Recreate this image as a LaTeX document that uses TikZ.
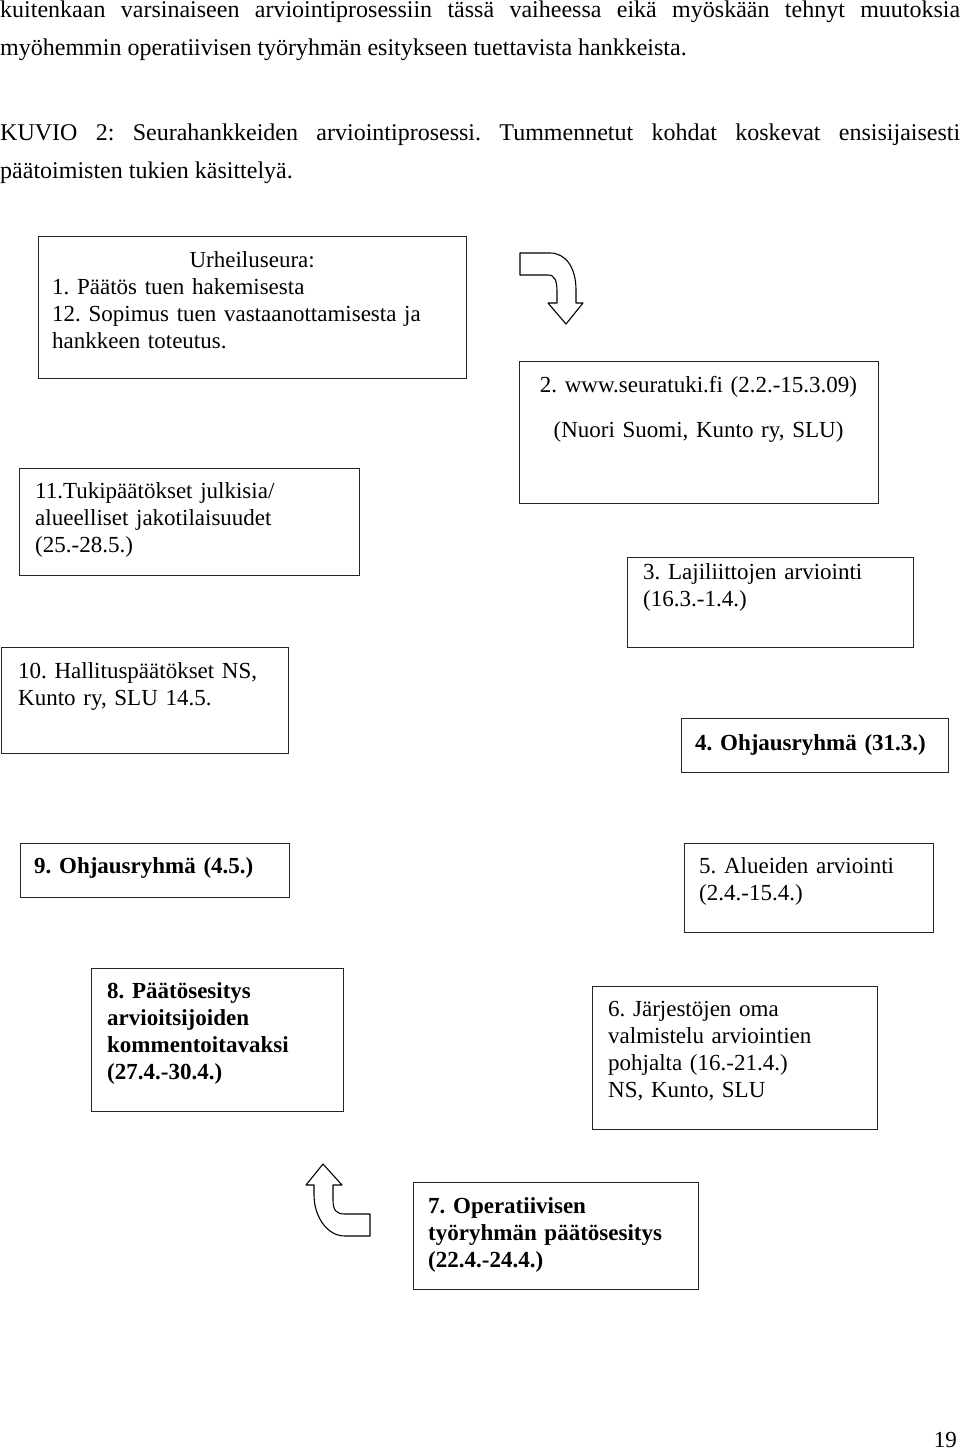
\documentclass[tikz,border=0pt]{standalone}
\usepackage{fontspec}
\setmainfont{Liberation Serif}
\usepackage{tikz}
\usetikzlibrary{positioning}
\frenchspacing
\newcommand{\boxfont}{\fontsize{23}{27.3}\selectfont}
\newcommand{\bodyfont}{\fontsize{24}{38}\selectfont}
\tikzstyle{stage} = [rectangle, draw=black!85, line width=1.4pt, anchor=north west, inner sep=0pt]
\tikzstyle{stagetext} = [anchor=base west, inner sep=0pt, align=left, font=\boxfont]
\tikzstyle{bodytext} = [anchor=base west, inner sep=0pt, text width=960pt, align=justify, font=\bodyfont]
\tikzstyle{bigarrow} = [draw=black, line width=1.1pt, fill=white, line join=round]

\begin{document}
\begin{tikzpicture}[x=1pt, y=-1pt]
			\useasboundingbox (0,0) rectangle (960,1450);
			
			%page text
			\node (intro) [bodytext] at (0,18) {kuitenkaan varsinaiseen arviointiprosessiin tässä vaiheessa eikä myöskään tehnyt muutoksia\linebreak myöhemmin operatiivisen työryhmän esitykseen tuettavista hankkeista.};
			\node (caption) [bodytext] at (0,141) {KUVIO 2: Seurahankkeiden arviointiprosessi. Tummennetut kohdat koskevat ensisijaisesti\linebreak päätoimisten tukien käsittelyä.};
			\node (pagenum) [anchor=base east, inner sep=0pt, font=\boxfont] at (957,1447) {19};
			
			%boxes
			\node (b1) [stage, minimum width=428pt, minimum height=142pt] at (38,236) {};
			\node (b2) [stage, minimum width=359pt, minimum height=142pt] at (519,361) {};
			\node (b3) [stage, minimum width=286pt, minimum height=90pt] at (627,557) {};
			\node (b4) [stage, minimum width=267pt, minimum height=54pt] at (681,718) {};
			\node (b5) [stage, minimum width=249pt, minimum height=89pt] at (684,843) {};
			\node (b6) [stage, minimum width=285pt, minimum height=143pt] at (592,986) {};
			\node (b7) [stage, minimum width=285pt, minimum height=107pt] at (413,1182) {};
			\node (b8) [stage, minimum width=252pt, minimum height=143pt] at (91,968) {};
			\node (b9) [stage, minimum width=269pt, minimum height=54pt] at (20,843) {};
			\node (b10) [stage, minimum width=287pt, minimum height=106pt] at (1,647) {};
			\node (b11) [stage, minimum width=340pt, minimum height=107pt] at (19,468) {};
			
			%box texts
			\node (t1) [stagetext, text width=400pt] at (52,267) {{\centering Urheiluseura:\par}1. Päätös tuen hakemisesta\\12. Sopimus tuen vastaanottamisesta ja\\hankkeen toteutus.};
			\node (t2) [stagetext, anchor=base, text width=350pt, align=center] at (698.5,392) {2. www.seuratuki.fi (2.2.-15.3.09)\\[17.7pt](Nuori Suomi, Kunto ry, SLU)};
			\node (t3) [stagetext, text width=260pt] at (643,579) {3. Lajiliittojen arviointi\\(16.3.-1.4.)};
			\node (t4) [stagetext, text width=250pt] at (695,750) {\bfseries 4. Ohjausryhmä (31.3.)};
			\node (t5) [stagetext, text width=230pt] at (699,873) {5. Alueiden arviointi\\(2.4.-15.4.)};
			\node (t6) [stagetext, text width=260pt] at (608,1016) {6. Järjestöjen oma\\valmistelu arviointien\\pohjalta (16.-21.4.)\\NS, Kunto, SLU};
			\node (t7) [stagetext, text width=265pt] at (428,1213) {\bfseries 7. Operatiivisen\\työryhmän päätösesitys\\(22.4.-24.4.)};
			\node (t8) [stagetext, text width=230pt] at (107,998) {\bfseries 8. Päätösesitys\\arvioitsijoiden\\kommentoitavaksi\\(27.4.-30.4.)};
			\node (t9) [stagetext, text width=250pt] at (34,873) {\bfseries 9. Ohjausryhmä (4.5.)};
			\node (t10) [stagetext, text width=265pt] at (18,678) {10. Hallituspäätökset NS,\\Kunto ry, SLU 14.5.};
			\node (t11) [stagetext, text width=320pt] at (35,498) {11.Tukipäätökset julkisia/\\alueelliset jakotilaisuudet\\(25.-28.5.)};
			
			%arrows
			\draw [bigarrow] (520,253) -- (550,253) .. controls (566,253) and (576,268) .. (576,290) -- (576,303) -- (583,303) -- (566,324) -- (548,303) -- (557,303) -- (557,292) .. controls (557,281) and (555,275) .. (548,275) -- (520,275) -- cycle;
			\draw [bigarrow] (323,1164) -- (342,1185) -- (333,1185) -- (333,1200) .. controls (333,1210) and (336,1214) .. (345,1214) -- (370,1214) -- (370,1236) -- (345,1236) .. controls (326,1236) and (314,1215) .. (314,1195) -- (314,1185) -- (306,1185) -- cycle;
			
		\end{tikzpicture}
\end{document}
